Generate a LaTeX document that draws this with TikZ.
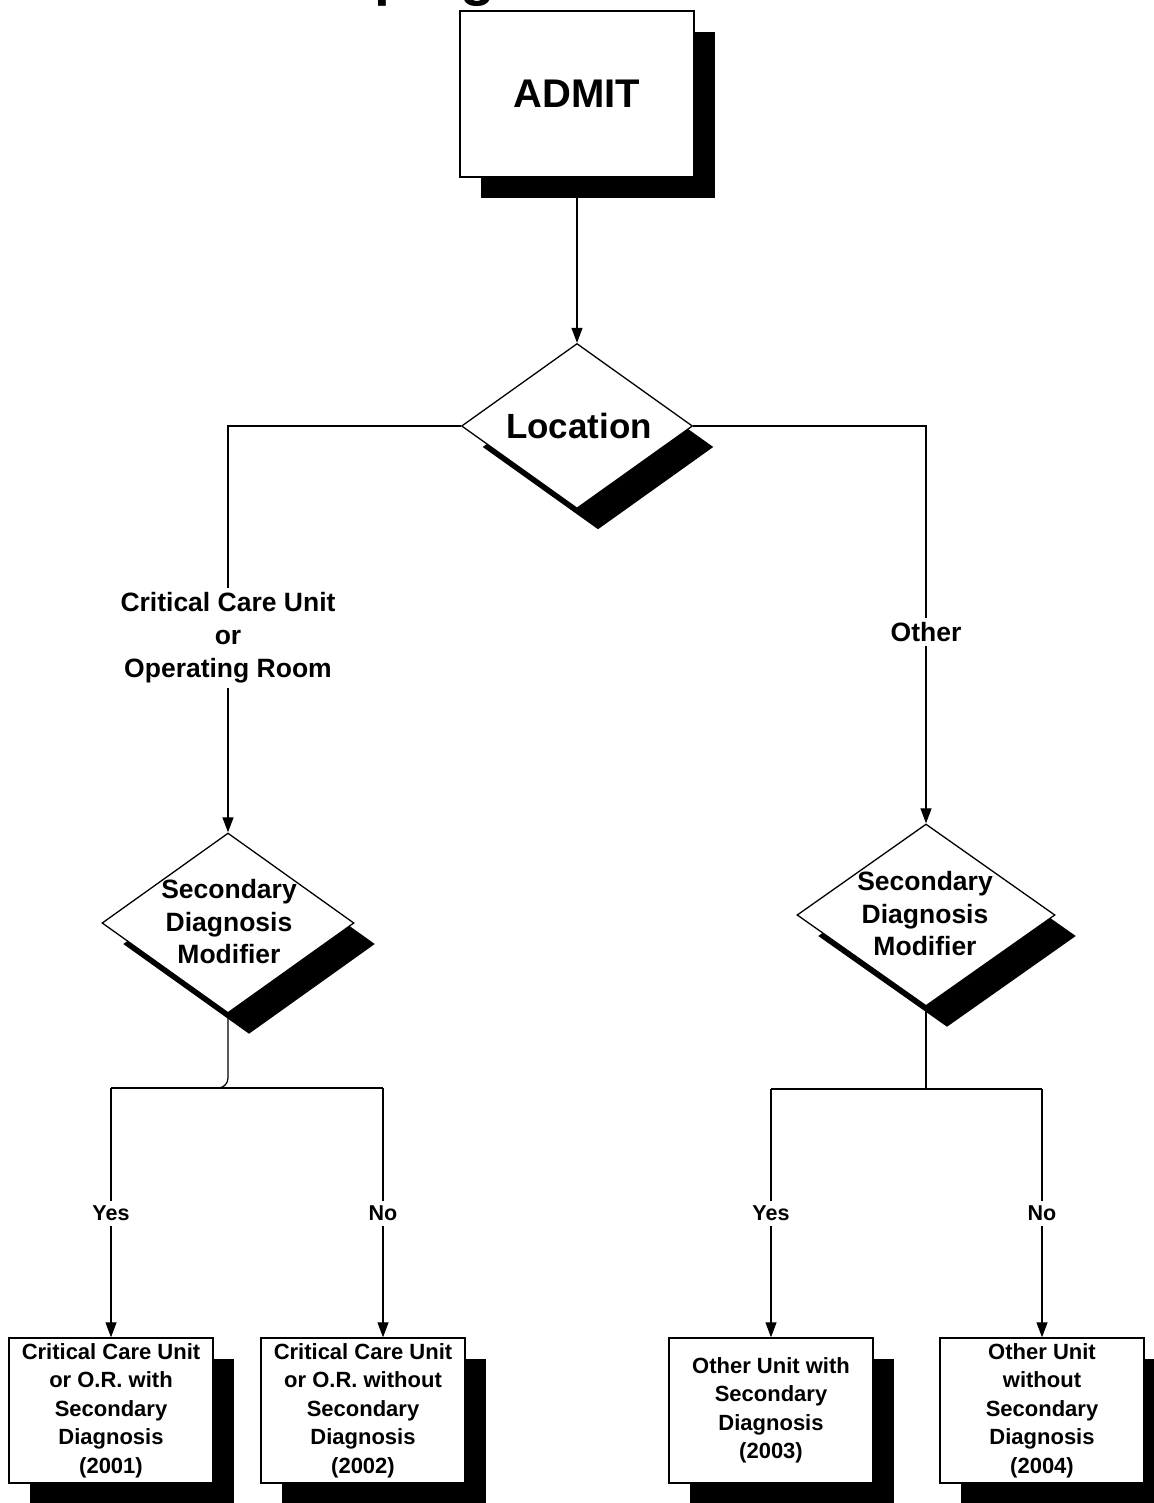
\documentclass[tikz,border=0pt]{standalone}
\usepackage{fontspec}
\setmainfont{Liberation Sans}
\usetikzlibrary{shapes.geometric,arrows.meta,shadows}
\begin{document}
\begin{tikzpicture}[x=1pt,y=-1pt,
  font=\bfseries,
  conn/.style={line width=1.2pt},
  arr/.style={conn,-{Triangle[length=15pt,width=11pt]}},
  shad/.style={drop shadow={shadow xshift=21pt,shadow yshift=-21pt,fill=black,opacity=1}},
  boxnode/.style={draw,line width=1.4pt,fill=white,shad,rectangle,inner sep=0pt},
  dia/.style={draw,line width=1.3pt,fill=white,shad,diamond,inner sep=0pt},
  leaf/.style={boxnode,minimum width=204pt,minimum height=145pt,align=center,font=\bfseries\fontsize{22}{28.5}\selectfont},
  lbl/.style={fill=white,align=center,inner sep=5pt,font=\bfseries\fontsize{26.5}{33}\selectfont},
  yn/.style={fill=white,inner sep=5pt,font=\bfseries\fontsize{21.5}{26}\selectfont},
  dtext/.style={align=center,font=\bfseries\fontsize{26.5}{32.5}\selectfont}
]
\useasboundingbox (0,0) rectangle (1153,1503);
\begin{scope}
\clip (0,0) rectangle (1153,1503);
\node[anchor=base east,inner sep=0pt,font=\bfseries\fontsize{57}{60}\selectfont] (title) at (495,-5) {Grouping};
\end{scope}

% nodes
\node[boxnode,minimum width=234pt,minimum height=166pt,font=\bfseries\fontsize{40}{48}\selectfont] (admit) at (577,94) {ADMIT};
\node[dia,minimum width=231pt,minimum height=165pt] (loc) at (577,426) {};
\node[font=\bfseries\fontsize{35}{42}\selectfont] (loctext) at (579,426) {Location};

\node[dia,minimum width=252pt,minimum height=180pt] (sd1) at (228,923) {};
\node[dtext] (sd1t) at (229,922) {Secondary\\Diagnosis\\Modifier};
\node[dia,minimum width=258pt,minimum height=182pt] (sd2) at (926,915) {};
\node[dtext] (sd2t) at (925,914) {Secondary\\Diagnosis\\Modifier};

\node[leaf] (leaf1) at (111,1410.5) {Critical Care Unit\\or O.R. with\\Secondary\\Diagnosis\\(2001)};
\node[leaf] (leaf2) at (363,1410.5) {Critical Care Unit\\or O.R. without\\Secondary\\Diagnosis\\(2002)};
\node[leaf] (leaf3) at (771,1410.5) {Other Unit with\\Secondary\\Diagnosis\\(2003)};
\node[leaf] (leaf4) at (1042,1410.5) {Other Unit\\without\\Secondary\\Diagnosis\\(2004)};

% connectors
\draw[arr] (admit.south) -- (loc.north);
\draw[arr] (loc.west) -| (sd1.north);
\draw[arr] (loc.east) -| (sd2.north);
\node[lbl] (l1) at (228,638) {Critical Care Unit\\or\\Operating Room};
\node[lbl,inner sep=4pt] (l2) at (926,632) {Other};

\coordinate (k1) at (205,1088);
\coordinate (a1) at (111,1088);
\coordinate (b1) at (383,1088);
\draw[conn,rounded corners=10pt] (sd1.south) |- (k1);
\draw[conn] (a1) -- (b1);
\draw[arr] (a1) -- (leaf1.north);
\draw[arr] (b1) -- (b1 |- leaf2.north);

\coordinate (j2) at (926,1089);
\coordinate (a2) at (771,1089);
\coordinate (b2) at (1042,1089);
\draw[conn] (sd2.south) -- (j2);
\draw[conn] (a2) -- (b2);
\draw[arr] (a2) -- (leaf3.north);
\draw[arr] (b2) -- (leaf4.north);

\node[yn] (y1) at (111,1213) {Yes};
\node[yn] (n1) at (383,1213) {No};
\node[yn] (y2) at (771,1213) {Yes};
\node[yn] (n2) at (1042,1213) {No};
\end{tikzpicture}
\end{document}
